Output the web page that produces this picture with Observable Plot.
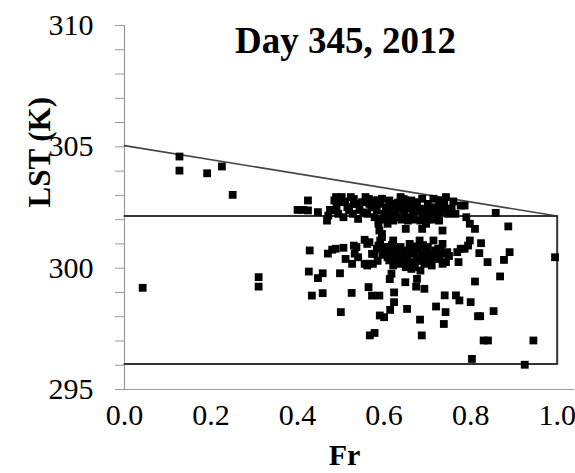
<!DOCTYPE html>
<html><head><meta charset="utf-8">
<script src="https://cdn.jsdelivr.net/npm/d3@7"></script>
<script src="https://cdn.jsdelivr.net/npm/@observablehq/plot@0.6"></script>
<style>body{margin:0;background:#fff}</style>
</head><body><div id="chart"></div>
<script>
const title = "Day 345, 2012";
const xLabel = "Fr";
const yLabel = "LST (K)";
const xTicks = [0, 0.2, 0.4, 0.6, 0.8, 1.0];
const yMajor = [295, 300, 305, 310];
const yMinor = [295,296,297,298,299,300,301,302,303,304,305,306,307,308,309,310];
const edgeFr = [0, 1];
const edgeLst = [305.05, 302.15];
const boxFr = [0, 1, 1, 0];
const boxLst = [302.15, 302.15, 296.05, 296.05];

const fr = [
0.042,0.127,0.127,0.191,0.225,0.250,0.310,0.310,0.995,0.925,0.945,0.803,0.830,0.840,0.858,0.887,0.890,0.877,0.868,0.853,
0.817,0.822,0.800,0.810,0.839,0.820,0.824,0.810,0.772,0.774,0.766,0.738,0.742,0.740,0.720,0.687,0.683,0.693,0.674,0.653,
0.649,0.623,0.623,0.614,0.617,0.613,0.600,0.590,0.578,0.567,0.589,0.572,0.564,0.525,0.500,0.498,0.458,0.433,0.458,0.447,
0.426,0.428,0.470,0.480,0.488,0.506,0.511,0.526,0.532,0.536,
0.400,0.413,0.424,0.424,0.447,0.468,0.471,0.481,0.485,0.489,0.498,0.502,0.506,0.515,0.523,0.528,0.530,0.540,0.543,0.549,
0.557,0.561,0.570,0.574,0.578,0.583,0.587,0.591,0.595,0.600,0.604,0.608,0.612,0.616,0.621,0.625,0.629,0.638,0.642,0.646,
0.650,0.655,0.659,0.663,0.667,0.676,0.680,0.684,0.688,0.697,0.701,0.710,0.714,0.718,0.722,0.727,0.731,0.739,0.743,0.748,
0.756,0.765,0.777,0.786,0.790,0.798,0.494,0.519,0.536,0.566,0.633,0.671,0.693,0.735,
0.605,0.620,0.632,0.585,0.610,0.640,0.660,0.700,0.720,
0.552,0.565,0.580,0.598,0.615,0.627,0.645,0.655,0.668,0.675,0.690,0.705,0.712,0.730,0.745,0.760,0.530,0.510,0.490,0.475,
0.589,0.595,0.587,0.650,0.688,0.697,0.735,0.727,
0.555,0.566,0.561,0.574,0.578,0.583,0.587,0.591,0.595,0.600,0.608,0.612,0.616,0.621,0.625,0.629,0.633,0.638,0.642,0.646,
0.650,0.655,0.659,0.663,0.667,0.671,0.676,0.680,0.682,0.684,0.688,0.693,0.697,0.701,0.705,0.710,0.714,0.718,0.722,0.727,
0.731,0.735,0.739,0.743,0.746,0.769,0.777,0.786,0.794,0.798,0.572,0.663,0.676,0.612,0.621,0.638,0.671,0.697,0.714,0.561,
0.555,0.564,0.530,0.540,
0.605,0.618,0.630,0.645,0.653,0.660,0.672,0.686,0.690,0.703,0.708,0.725,0.735,0.750,0.597,0.585
];
const lst = [
299.19,304.60,304.02,303.91,304.19,303.02,299.63,299.24,300.45,296.02,297.02,296.26,297.02,297.02,302.28,301.72,300.66,300.34,299.66,298.23,
298.02,298.02,298.60,299.45,300.25,300.62,301.03,301.62,300.25,298.67,298.88,297.70,298.19,298.88,298.42,297.23,297.88,299.15,299.24,298.32,
299.42,299.00,298.60,298.28,299.77,299.55,297.98,298.05,297.33,297.23,298.87,298.87,299.22,298.98,298.19,299.79,298.97,298.87,299.79,299.59,
299.86,300.73,300.60,300.76,300.80,300.84,300.38,300.18,300.60,300.87,
302.40,302.40,302.79,302.38,302.31,301.96,302.17,302.38,302.79,302.93,302.72,302.93,302.10,302.51,302.93,302.24,302.65,302.03,302.40,302.72,
302.93,302.24,302.51,302.79,302.10,302.38,301.96,302.65,302.86,302.24,302.51,301.83,302.79,302.24,301.96,302.58,302.10,302.93,302.51,302.24,
302.79,301.96,302.45,302.79,302.24,302.72,302.45,301.96,302.86,302.31,302.65,302.17,302.86,302.51,302.03,302.79,302.31,302.65,302.93,302.24,
302.45,302.24,302.58,302.58,302.10,301.83,302.24,302.38,302.65,302.65,302.45,302.51,302.45,302.45,
302.00,302.30,302.70,302.80,302.40,302.00,302.10,302.00,302.30,
302.30,302.85,302.55,302.05,302.65,302.30,302.85,302.60,302.00,302.35,302.15,302.45,302.00,302.60,302.45,302.75,302.85,302.75,302.50,302.40,
301.55,301.41,301.83,301.62,301.62,301.83,301.55,301.96,
301.17,301.07,300.11,300.18,300.59,300.80,300.93,301.14,301.28,300.87,300.45,300.32,300.59,301.14,300.80,300.38,300.59,300.87,300.52,300.32,
300.04,300.73,301.00,300.59,300.25,300.04,300.38,300.80,301.14,299.90,300.52,300.18,300.73,300.87,300.45,300.11,301.14,300.73,300.59,300.38,
300.73,300.18,300.59,300.25,300.66,300.66,300.80,300.80,300.93,301.14,300.59,299.97,299.56,300.87,300.11,300.18,300.66,300.32,300.45,301.00,
300.18,300.18,300.93,300.45,
300.60,300.95,300.20,300.70,300.40,300.20,300.90,300.30,300.95,300.60,300.25,300.80,301.00,300.50,300.55,300.30
];

const points = fr.map((f, i) => ({fr: f, lst: lst[i]}));
const edge = edgeFr.map((f, i) => ({fr: f, lst: edgeLst[i]}));
const box = boxFr.map((f, i) => ({fr: f, lst: boxLst[i]}));

const serif = "Liberation Serif, Times New Roman, serif";

const chart = Plot.plot({
  width: 575,
  height: 473,
  marginLeft: 124,
  marginTop: 25,
  marginBottom: 84,
  marginRight: 1,
  style: {fontFamily: serif, background: "#fff", color: "#000"},
  x: {domain: [0, 1.04], axis: null},
  y: {domain: [295, 310], axis: null},
  marks: [
    Plot.ruleY([295], {stroke: "#999", strokeWidth: 1.2}),
    Plot.ruleX([0], {y1: 295, y2: 310, stroke: "#999", strokeWidth: 1.2}),
    Plot.axisY({ticks: yMinor, tickSize: 9, tickFormat: () => "", stroke: "#999", label: null}),
    Plot.text(yMajor, {y: d => d, frameAnchor: "left", dx: -31, textAnchor: "end", lineAnchor: "middle", fontSize: 30, fill: "#000"}),
    Plot.text(xTicks, {x: d => d, frameAnchor: "bottom", dy: 26, lineAnchor: "middle", fontSize: 30, fill: "#000", text: d => d3.format(".1f")(d)}),
    Plot.line(edge, {x: "fr", y: "lst", stroke: "#444", strokeWidth: 1.6}),
    Plot.line(box, {x: "fr", y: "lst", stroke: "#333", strokeWidth: 2}),
    Plot.dot(points, {x: "fr", y: "lst", symbol: "square", r: 4.4, fill: "#000", stroke: "none"}),
    Plot.text([title], {frameAnchor: "top", dy: 16, dx: -4, fontSize: 37, fontWeight: "bold", fill: "#000", lineAnchor: "middle"}),
    Plot.text([yLabel], {frameAnchor: "left", dx: -84, rotate: -90, fontSize: 31, fontWeight: "bold", fill: "#000", lineAnchor: "middle"}),
    Plot.text([xLabel], {frameAnchor: "bottom", dy: 66, dx: -5, fontSize: 30, fontWeight: "bold", fill: "#000", lineAnchor: "middle"})
  ]
});
document.getElementById("chart").appendChild(chart);
</script>
</body></html>
